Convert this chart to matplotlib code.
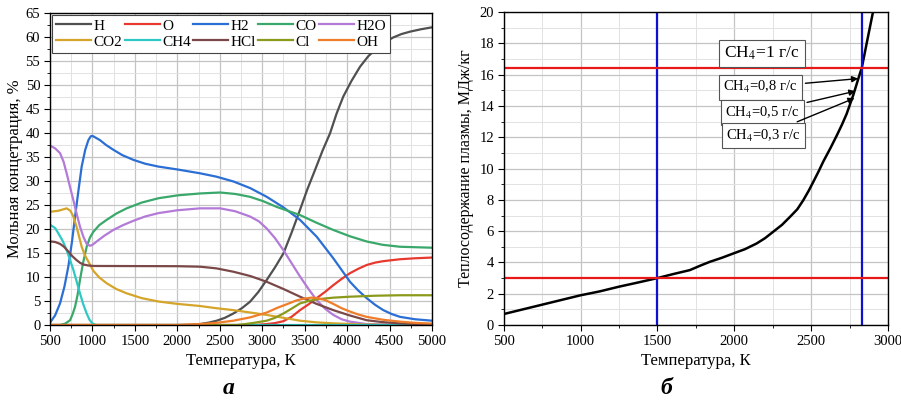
import numpy as np
import matplotlib
matplotlib.use('Agg')
import matplotlib.pyplot as plt
from matplotlib.ticker import MultipleLocator

plt.rcParams['font.family'] = ['Liberation Serif', 'DejaVu Serif']
plt.rcParams['mathtext.fontset'] = 'stix'

# --- chart a: equilibrium composition vs temperature (K, mol %)
h_t = [500, 2000, 2150, 2267, 2370, 2464, 2560, 2660, 2760, 2856, 2955, 3053, 3150,
       3249, 3345, 3445, 3530, 3622, 3710, 3798, 3875, 3955, 4050, 4152, 4250,
       4348, 4445, 4544, 4640, 4741, 4870, 5000]
h_v = [0, 0, 0.05, 0.2, 0.5, 0.9, 1.5, 2.4, 3.5, 4.85, 6.9, 9.4, 12, 14.9, 19.2,
       24, 28.2, 32.3, 36.3, 39.9, 44, 47.6, 50.8, 53.8, 56, 57.6, 58.9, 59.9,
       60.6, 61.1, 61.6, 62]

o_t = [500, 2850, 2950, 3053, 3150, 3249, 3345, 3445, 3545, 3641, 3740, 3837, 3935,
       4034, 4130, 4230, 4330, 4426, 4623, 4800, 5000]
o_v = [0, 0, 0.05, 0.2, 0.4, 0.8, 1.7, 3.1, 4.3, 5.6, 6.9, 8.3, 9.6, 10.8, 11.7,
       12.5, 13.0, 13.3, 13.7, 13.9, 14.05]

h2_t = [508, 560, 618, 670, 716, 760, 795, 835, 873, 915, 952, 980, 999, 1030,
        1089, 1160, 1246, 1350, 1481, 1620, 1776, 2000, 2267, 2460, 2660, 2860,
        3053, 3250, 3445, 3641, 3837, 4034, 4130, 4230, 4330, 4426, 4523, 4623,
        4800, 5000]
h2_v = [0.7, 2, 4.5, 8, 12.2, 17.5, 22.6, 28, 33, 36.5, 38.5, 39.3, 39.4, 39.1,
        38.5, 37.5, 36.5, 35.4, 34.4, 33.6, 33.0, 32.4, 31.6, 30.9, 29.9, 28.5,
        26.7, 24.5, 21.9, 18.4, 13.9, 9.0, 7.2, 5.6, 4.2, 3.1, 2.3, 1.7, 1.2, 0.9]

co_t = [500, 618, 680, 736, 765, 795, 825, 853, 890, 932, 970, 1010, 1080, 1167,
        1280, 1403, 1580, 1776, 2000, 2267, 2503, 2680, 2856, 3010, 3170, 3300,
        3445, 3640, 3837, 4030, 4230, 4420, 4623, 5000]
co_v = [0, 0, 0.3, 1.0, 2.2, 3.8, 6.3, 9.4, 13, 16.3, 18.2, 19.4, 20.8, 21.9,
        23.2, 24.3, 25.5, 26.4, 27.0, 27.4, 27.6, 27.3, 26.7, 25.8, 24.6, 23.8,
        22.9, 21.3, 19.8, 18.5, 17.4, 16.7, 16.3, 16.1]

h2o_t = [508, 560, 618, 660, 696, 735, 775, 815, 853, 895, 932, 971, 1000, 1050,
         1140, 1246, 1360, 1481, 1620, 1776, 2000, 2267, 2503, 2680, 2856, 2960,
         3053, 3150, 3249, 3345, 3445, 3545, 3641, 3740, 3837, 3935, 4034, 4230,
         4600, 5000]
h2o_v = [37.3, 36.8, 35.8, 34, 31.6, 28.8, 26.0, 23.1, 20.5, 18.3, 16.9, 16.5,
         16.7, 17.4, 18.6, 19.8, 20.8, 21.7, 22.6, 23.3, 23.9, 24.3, 24.3, 23.7,
         22.6, 21.6, 20.1, 18.1, 15.6, 12.9, 10.1, 7.5, 5.2, 3.4, 2.1, 1.2, 0.7,
         0.2, 0.05, 0]

co2_t = [508, 600, 696, 740, 775, 820, 873, 912, 952, 1010, 1080, 1167, 1280,
         1403, 1580, 1776, 2000, 2267, 2460, 2660, 2860, 3053, 3250, 3445, 3640,
         3837, 4200, 4600, 5000]
co2_v = [23.6, 23.8, 24.3, 23.8, 22.6, 20, 16.3, 14.5, 13.2, 11.3, 9.9, 8.7, 7.5,
         6.6, 5.6, 4.9, 4.4, 3.96, 3.5, 3.1, 2.6, 2.1, 1.5, 0.9, 0.55, 0.35, 0.1,
         0, 0]

ch4_t = [508, 560, 598, 650, 696, 735, 775, 815, 853, 892, 932, 965, 999, 1040, 5000]
ch4_v = [20.8, 20.2, 19.1, 17.5, 15.6, 13.6, 11.5, 9.0, 6.6, 4.3, 2.4, 1.1, 0.35,
         0, 0]

hcl_t = [508, 560, 618, 665, 716, 765, 814, 855, 893, 950, 1010, 2000, 2267, 2460,
         2660, 2860, 3053, 3250, 3445, 3640, 3837, 4030, 4230, 4420, 4623, 5000]
hcl_v = [17.4, 17.3, 16.9, 16.3, 15.3, 14.3, 13.5, 12.95, 12.6, 12.4, 12.3, 12.25,
         12.15, 11.8, 11.1, 10.2, 9.0, 7.5, 5.9, 4.4, 3.1, 2.0, 1.0, 0.6, 0.35, 0.1]

cl_t = [500, 2700, 2800, 2900, 3053, 3150, 3249, 3345, 3445, 3545, 3641, 3837,
        4034, 4330, 4623, 5000]
cl_v = [0, 0, 0.2, 0.45, 0.9, 1.5, 2.4, 3.4, 4.5, 5.0, 5.35, 5.7, 5.9, 6.1, 6.2, 6.2]

oh_t = [500, 2000, 2267, 2460, 2660, 2860, 3053, 3180, 3300, 3400, 3490, 3580,
        3650, 3740, 3837, 3935, 4034, 4130, 4230, 4420, 4623, 4800, 5000]
oh_v = [0, 0, 0.2, 0.45, 0.9, 1.6, 2.6, 3.6, 4.4, 5.1, 5.5, 5.7, 5.6, 5.2, 4.4,
        3.5, 2.8, 2.2, 1.7, 1.1, 0.7, 0.45, 0.3]

species = ['H', 'O', 'H2', 'CO', 'H2O', 'CO2', 'CH4', 'HCl', 'Cl', 'OH']
series = [(h_t, h_v), (o_t, o_v), (h2_t, h2_v), (co_t, co_v), (h2o_t, h2o_v),
          (co2_t, co2_v), (ch4_t, ch4_v), (hcl_t, hcl_v), (cl_t, cl_v), (oh_t, oh_v)]
colors = ['#505050', '#e8392f', '#2b6fd4', '#3aa86b', '#b37ad8',
          '#d4a52a', '#2ec9c4', '#7a4848', '#8c9a1c', '#f07d2a']

# --- chart b: plasma enthalpy vs temperature (K, MJ/kg)
temp_b = [500, 625, 750, 875, 1000, 1125, 1250, 1375, 1500, 1600, 1711, 1780,
          1841, 1920, 1993, 2070, 2145, 2200, 2253, 2310, 2362, 2410, 2449, 2485,
          2514, 2550, 2579, 2625, 2666, 2700, 2731, 2774, 2818, 2829, 2861, 2900,
          2905]
enth_b = [0.7, 1.0, 1.3, 1.6, 1.9, 2.15, 2.45, 2.72, 3.0, 3.25, 3.51, 3.8, 4.04,
          4.3, 4.57, 4.85, 5.21, 5.55, 5.96, 6.4, 6.91, 7.4, 7.98, 8.6, 9.15, 9.85,
          10.45, 11.3, 12.1, 12.8, 13.5, 14.7, 16.1, 16.42, 18.0, 19.9, 20.1]
vlines_b = [1500, 2829]
hlines_b = [3.0, 16.42]
main_label = 'CH$_4$=1 г/с'
main_pos = (2180, 17.35)
box_labels = ['CH$_4$=0,8 г/с', 'CH$_4$=0,5 г/с', 'CH$_4$=0,3 г/с']
box_pos = [(2171, 15.2), (2182, 13.56), (2190, 12.1)]
arrow_tips = [(2806, 15.75), (2788, 14.95), (2782, 14.5)]

fig = plt.figure(figsize=(9.01, 4.04), dpi=100)
ax1 = fig.add_axes([0.0555, 0.1955, 0.424, 0.7725])
ax2 = fig.add_axes([0.559, 0.1955, 0.4266, 0.7745])


def style_axes(ax):
    ax.grid(True, which='major', color='#c4c4c4', lw=0.9)
    ax.grid(True, which='minor', color='#e2e2e2', lw=0.7)
    ax.set_axisbelow(True)
    ax.tick_params(which='both', direction='out', labelsize=10.5, pad=3)
    ax.tick_params(which='major', length=4)
    ax.tick_params(which='minor', length=2.5)
    for sp in ax.spines.values():
        sp.set_linewidth(1.0)


lines = []
for name, (tt, vv), c in zip(species, series, colors):
    ln, = ax1.plot(tt, vv, color=c, lw=1.6, label=name)
    lines.append(ln)
ax1.set_xlim(500, 5000)
ax1.set_ylim(0, 65)
ax1.xaxis.set_major_locator(MultipleLocator(500))
ax1.xaxis.set_minor_locator(MultipleLocator(250))
ax1.yaxis.set_major_locator(MultipleLocator(5))
ax1.yaxis.set_minor_locator(MultipleLocator(2.5))
style_axes(ax1)
ax1.set_xlabel('Температура, К', fontsize=12)
ax1.set_ylabel('Мольная концетрация, %', fontsize=12, labelpad=2)

# legend fills column-wise, so interleave to read row-wise
order = [0, 5, 1, 6, 2, 7, 3, 8, 4, 9]
leg = ax1.legend([lines[i] for i in order], [species[i] for i in order],
                 loc='upper left', ncol=5, fontsize=11, handlelength=2.3,
                 handletextpad=0.15, columnspacing=0.15, borderpad=0.25,
                 labelspacing=0.15, borderaxespad=0.15, fancybox=False,
                 framealpha=1)
leg.get_frame().set_edgecolor('#444444')
leg.get_frame().set_linewidth(0.8)

ax2.plot(temp_b, enth_b, color='black', lw=1.8)
for v in vlines_b:
    ax2.axvline(v, color='#1010d0', lw=1.6)
for hv in hlines_b:
    ax2.axhline(hv, color='#e81818', lw=1.6)
ax2.set_xlim(500, 3000)
ax2.set_ylim(0, 20)
ax2.xaxis.set_major_locator(MultipleLocator(500))
ax2.xaxis.set_minor_locator(MultipleLocator(250))
ax2.yaxis.set_major_locator(MultipleLocator(2))
ax2.yaxis.set_minor_locator(MultipleLocator(1))
style_axes(ax2)
ax2.set_xlabel('Температура, К', fontsize=12)
ax2.set_ylabel('Теплосодержание плазмы, МДж/кг', fontsize=11.5, labelpad=4)

bbox = dict(boxstyle='square,pad=0.3', fc='white', ec='#555555', lw=0.8)
ax2.text(main_pos[0], main_pos[1], main_label, fontsize=12.5, ha='center',
         va='center', bbox=bbox)
for lab, pos, tip in zip(box_labels, box_pos, arrow_tips):
    ax2.annotate(lab, xy=tip, xytext=pos, fontsize=10.5, ha='center', va='center',
                 bbox=bbox,
                 arrowprops=dict(arrowstyle='-|>', color='black', lw=1.0,
                                 mutation_scale=9, shrinkA=2, shrinkB=0))

fig.text(0.254, 0.025, 'а', fontsize=17, fontweight='bold', style='italic',
         ha='center')
fig.text(0.74, 0.025, 'б', fontsize=17, fontweight='bold', style='italic',
         ha='center')

fig.savefig('out.png', dpi=100)
